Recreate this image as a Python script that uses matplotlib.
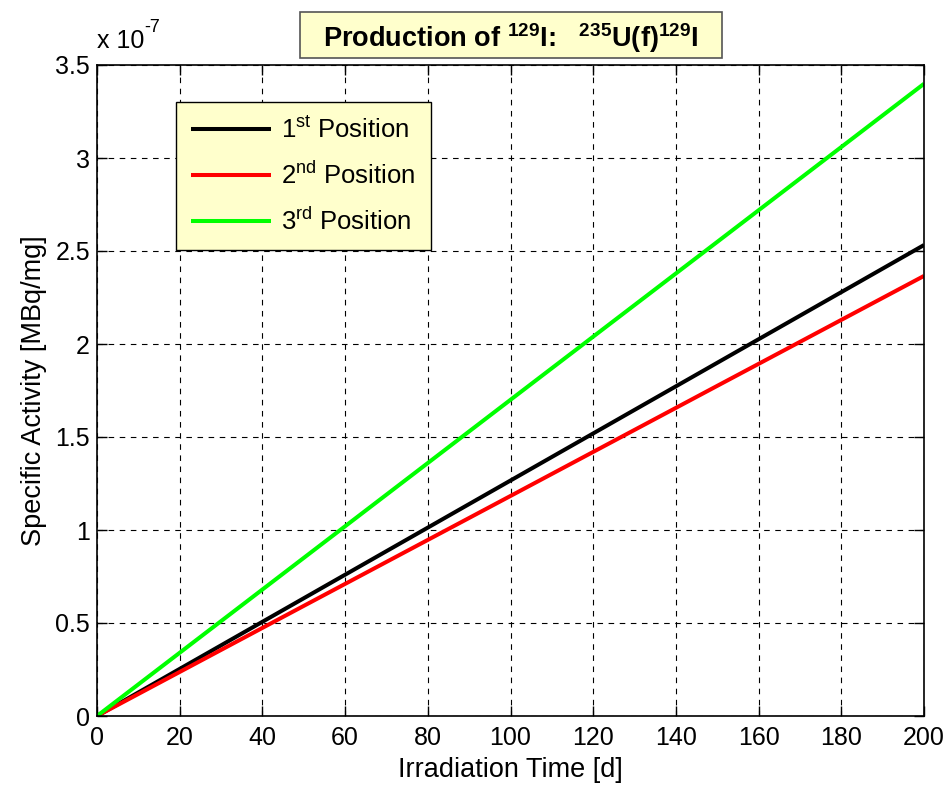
import matplotlib
matplotlib.use("Agg")
import matplotlib.pyplot as plt
from matplotlib.patches import Rectangle
import numpy as np

plt.rcParams['font.family'] = ['Liberation Sans', 'DejaVu Sans']
plt.rcParams['mathtext.fontset'] = 'custom'
plt.rcParams['mathtext.rm'] = 'Liberation Sans'
plt.rcParams['mathtext.it'] = 'Liberation Sans:italic'
plt.rcParams['mathtext.bf'] = 'Liberation Sans:bold'

# Irradiation time [d] and specific activity [MBq/mg]
time_d = [0, 50, 100, 150, 200]
pos1 = [0.0, 0.633e-7, 1.266e-7, 1.899e-7, 2.532e-7]
pos2 = [0.0, 0.592e-7, 1.183e-7, 1.775e-7, 2.366e-7]
pos3 = [0.0, 0.850e-7, 1.700e-7, 2.549e-7, 3.399e-7]

labels = [r'1$^{\rm st}$ Position', r'2$^{\rm nd}$ Position', r'3$^{\rm rd}$ Position']
colors = ['#000000', '#ff0000', '#00ff00']
scale = 1e7

W, H = 948, 786
fig = plt.figure(figsize=(W / 100, H / 100), dpi=100)
ax = fig.add_axes([97/W, 1-716/H, (924-97)/W, (716-65)/H])

for y, lab, c in zip([pos1, pos2, pos3], labels, colors):
    ax.plot(time_d, np.array(y) * scale, color=c, lw=2.9, label=lab,
            solid_capstyle='butt')

ax.set_xlim(0, 200)
ax.set_ylim(0, 3.5)
ax.set_xticks(np.arange(0, 201, 20))
ax.set_yticks(np.arange(0, 3.51, 0.5))
ax.set_yticklabels(['0', '0.5', '1', '1.5', '2', '2.5', '3', '3.5'])
ax.tick_params(direction='in', length=7, width=1, labelsize=18, top=True, right=True)
ax.tick_params(axis='x', pad=7)
ax.tick_params(axis='y', pad=5)
ax.grid(True, color='black', linestyle=(0, (5, 5)), linewidth=0.8)
for s in ax.spines.values():
    s.set_linewidth(1.2)

ax.set_xlabel('Irradiation Time [d]', fontsize=19.5, labelpad=5)
ax.set_ylabel('Specific Activity [MBq/mg]', fontsize=19.5, labelpad=6)

# exponent of the y axis
ax.text(0.0, 1.018, 'x 10', transform=ax.transAxes, fontsize=18,
        ha='left', va='bottom')
ax.text(0.057, 1.045, '-7', transform=ax.transAxes, fontsize=13,
        ha='left', va='bottom')

# title box
fig.add_artist(Rectangle((300/W, 1-58/H), (722-300)/W, (58-12)/H,
                         transform=fig.transFigure, facecolor='#ffffcc',
                         edgecolor='#555555', lw=1.2))
fig.text(511/W, 1-47/H,
         r'Production of $^{\mathbf{129}}$I:   $^{\mathbf{235}}$U(f)$^{\mathbf{129}}$I',
         fontsize=19.5, fontweight='bold', ha='center', va='baseline')

leg = ax.legend(loc='upper left', bbox_to_anchor=(79/827, 1-37/651), fontsize=18.5,
                fancybox=False, framealpha=1, facecolor='#ffffcc', edgecolor='black',
                handlelength=3.1, handletextpad=0.4, labelspacing=0.72, borderpad=0.6,
                borderaxespad=0)
leg.get_frame().set_linewidth(1.0)

fig.savefig('out.png', dpi=100)
